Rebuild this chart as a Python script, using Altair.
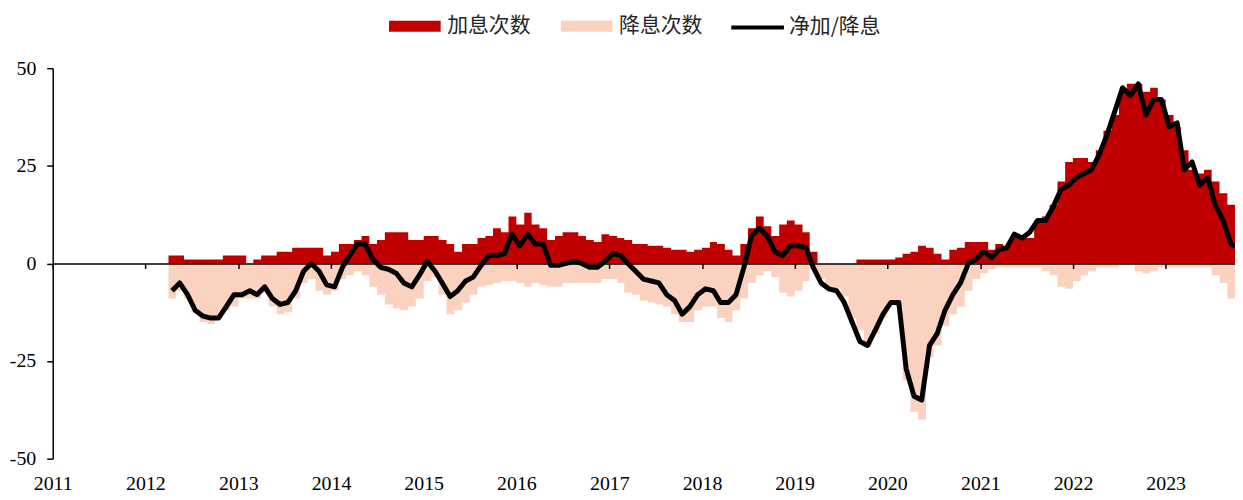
import altair as alt
import pandas as pd

# Monthly readings, April 2012 .. October 2023
hikes = [
    2, 2, 1, 1, 1, 1, 1, 2, 2,                      # 2012 Apr-Dec
    2, 0, 1, 2, 2, 3, 3, 4, 4, 4, 4, 2,             # 2013
    3, 5, 5, 6, 7, 5, 6, 8, 8, 8, 6, 6,             # 2014
    7, 7, 6, 5, 3, 5, 5, 6.5, 7, 9, 8, 12,          # 2015
    10, 13, 10, 9, 6, 7, 8, 8, 7, 6, 5.5, 7.5,      # 2016
    7, 6.5, 6, 5, 5, 4.5, 4.5, 4, 3.5, 3.5, 3, 3.5, # 2017
    4, 5.5, 5, 3.5, 2, 5, 9, 12, 9.5, 7, 10, 11,    # 2018
    10, 8, 3, 0, 0, 0, 0, 0, 1, 1, 1, 1,            # 2019
    1, 1.5, 2.5, 3, 4.5, 4, 2.5, 1, 3.5, 4, 5.5, 5.5,  # 2020
    5.5, 3.5, 5, 4.5, 7, 6.5, 6.5, 11, 12, 15, 21, 26,  # 2021
    27, 27, 26, 29, 34, 38, 44, 46, 46, 44, 45, 42,     # 2022
    38, 35, 29, 24, 23, 24, 21, 18, 15, 15,             # 2023 Jan-Oct
]
cuts = [
    -9, -7, -9, -12.5, -15, -15.5, -14, -12, -11,
    -9, -9, -9, -7.5, -11, -13, -12.5, -9, -5, -4, -7, -8,
    -7, -4, -3, -2, -3, -6, -8, -10.5, -11.5, -12, -11, -9,
    -4.5, -3.5, -8, -13, -12, -10, -8, -6, -5.5, -5, -4.5, -4.5,
    -5, -6, -5, -5.5, -6, -6, -5, -5, -5, -5, -5, -4,
    -4, -5, -7.5, -8, -9.5, -10, -10.5, -11, -13, -15, -15, -12,
    -11, -11, -14, -15, -12, -9, -5, -3, -2, -3.5, -7.5, -8.5,
    -7, -4.5, -1.5, -4, -6, -6.5, -8.5, -14, -17, -21.5, -18, -14,
    -10, -11, -30, -38, -40, -24, -21, -16, -13, -11, -7, -4,
    -2.5, -1.5, -1, -1, -1, -1, -1, -1, -2, -3, -6, -6.5,
    -4.5, -3, -2, -1, -1, -1, -0.5, -0.5, -2, -2.5, -2, -1,
    -1, -1, -1, -1, -1, -1, -3, -5, -9, -11,
]
net = [
    -7, -5, -8, -12, -13.5, -14, -14, -11, -8,
    -8, -7, -8, -6, -9, -10.5, -10, -7, -2, 0, -2, -5.5,
    -6, -1, 2, 5, 5, 1, -1, -1.5, -2.5, -5, -6, -3,
    0.5, -2, -5, -8.5, -7, -4.5, -3.5, -0.5, 2, 2, 2.5, 7.5,
    4.5, 7.5, 5, 5, -0.5, -0.5, 0, 0.5, 0, -1, -1, 0.5,
    2.5, 2, 0, -2, -4, -4.5, -5, -8, -9.5, -13, -11, -8,
    -6.5, -7, -10, -10, -8, -1, 7, 9, 7, 3, 2, 4.5,
    4.5, 4, -1, -5, -6.5, -7, -10, -15, -20, -21, -17, -13,
    -10, -10, -27, -34, -35, -21, -18, -12, -8, -5, 0, 1,
    3, 1.5, 3.5, 4, 7.5, 6.5, 8, 11, 11, 14.5, 19, 20,
    22, 23, 24, 28, 33, 39, 45, 43, 46, 38, 42, 42,
    35, 36, 24, 26, 20, 22, 15, 11, 5, 4,
]
series_names = ["加息次数", "降息次数"]
line_name = "净加/降息"
years = list(range(2011, 2024))

months = pd.date_range("2012-04-01", periods=len(hikes), freq="MS")
df = pd.DataFrame({
    "date": months.strftime("%Y-%m-%d"),
    "mid": (months + pd.Timedelta(days=14)).strftime("%Y-%m-%d"),
    series_names[0]: hikes,
    series_names[1]: cuts,
    "net": net,
})

W, H = 1190, 393
serif = "Liberation Serif"
cjk = "Noto Sans CJK SC"

xscale = alt.Scale(domain=[alt.DateTime(year=2011, month=1, date=1),
                           alt.DateTime(year=2023, month=10, date=1)])
yscale = alt.Scale(domain=[-50, 50], nice=False, zero=False)

xaxis = alt.Axis(
    title=None, orient="bottom", offset=-H / 2, format="%Y",
    values=[alt.DateTime(year=y, month=1, date=1) for y in years],
    tickSize=5, tickWidth=1.5, tickColor="black",
    domainColor="black", domainWidth=1.5,
    labelFont=serif, labelFontSize=20, labelColor="black",
    labelPadding=H / 2 + 10, labelFlush=False, labelOverlap=False,
    grid=False, zindex=1,
)
yaxis = alt.Axis(
    title=None, values=[-50, -25, 0, 25, 50], tickSize=6, tickWidth=1.5,
    tickColor="black", domainColor="black", domainWidth=1.5,
    labelFont=serif, labelFontSize=20, labelColor="black", labelPadding=11,
    labelExpr="toString(datum.value)",
    grid=False, zindex=1,
)

area = alt.Chart(df).transform_fold(
    series_names, as_=["series", "value"]
).mark_area(interpolate="step-after", clip=True).encode(
    x=alt.X("date:T", scale=xscale, axis=xaxis),
    y=alt.Y("value:Q", scale=yscale, axis=yaxis, stack=None),
    fill=alt.Fill(
        "series:N",
        scale=alt.Scale(domain=series_names, range=["#C00000", "#FBD2C0"]),
        legend=alt.Legend(
            title=None, orient="none", legendX=338, legendY=-53,
            direction="horizontal", padding=0,
            symbolType="M-1,-0.55L4.2,-0.55L4.2,0.55L-1,0.55Z",
            symbolSize=400, symbolStrokeWidth=0, symbolOpacity=1,
            labelFont=cjk, labelFontSize=21, labelColor="#262626",
            labelOffset=38, columnPadding=30,
        ),
    ),
)

line = alt.Chart(df).transform_calculate(
    series="'" + line_name + "'"
).mark_line(strokeWidth=5, clip=True, strokeJoin="round").encode(
    x=alt.X("mid:T", scale=xscale, axis=xaxis),
    y=alt.Y("net:Q", scale=yscale, axis=yaxis),
    stroke=alt.Stroke(
        "series:N",
        scale=alt.Scale(domain=[line_name], range=["black"]),
        legend=alt.Legend(
            title=None, orient="none", legendX=681, legendY=-53,
            direction="horizontal", padding=0,
            symbolType="M-1,0L4.3,0", symbolSize=400, symbolStrokeWidth=4,
            labelFont=cjk, labelFontSize=21, labelColor="#262626",
            labelOffset=36,
        ),
    ),
)

chart = alt.layer(area, line).properties(
    width=W, height=H,
    background="white",
    autosize=alt.AutoSizeParams(type="none"),
    padding={"left": 45, "top": 59, "right": 0, "bottom": 36},
).configure_view(strokeWidth=0)

chart.save("out.html", embed_options={"renderer": "svg", "actions": False})
